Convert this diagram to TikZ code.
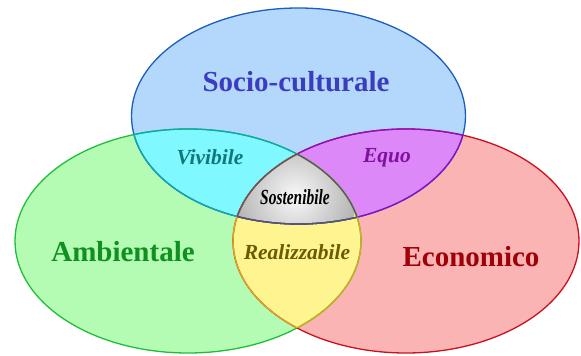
\documentclass[tikz,border=0pt]{standalone}
\usepackage{fontspec}
\setmainfont{Liberation Serif}
\usepackage{xcolor}
\usepackage{tikz}

\definecolor{socfill}{HTML}{B4D8FB}
\definecolor{socline}{HTML}{1A5FBF}
\definecolor{ambfill}{HTML}{B4FBB4}
\definecolor{ambline}{HTML}{1FBF3A}
\definecolor{ecofill}{HTML}{FBB4B4}
\definecolor{ecoline}{HTML}{CC1020}
\definecolor{vivfill}{HTML}{80F8FF}
\definecolor{vivline}{HTML}{10A8B0}
\definecolor{equfill}{HTML}{DD88F8}
\definecolor{equline}{HTML}{8A10C8}
\definecolor{realfill}{HTML}{FFF590}
\definecolor{realline}{HTML}{D8A820}
\definecolor{soctext}{HTML}{3C3CC0}
\definecolor{ambtext}{HTML}{109020}
\definecolor{ecotext}{HTML}{A00008}
\definecolor{vivtext}{HTML}{107878}
\definecolor{equtext}{HTML}{8010A0}
\definecolor{realtext}{HTML}{6A5A00}

\tikzset{
  bigname/.style={anchor=base, font=\fontsize{29}{32}\selectfont\bfseries},
  smallname/.style={anchor=base, font=\fontsize{21.5}{24}\selectfont\bfseries\itshape},
}

\newcommand{\socell}{(298.5,240) ellipse [x radius=167, y radius=108]}
\newcommand{\ambell}{(188,115) ellipse [x radius=173, y radius=112]}
\newcommand{\ecoell}{(406,115) ellipse [x radius=173, y radius=112]}

\begin{document}
\begin{tikzpicture}[x=1pt, y=1pt, line width=1.3pt]
        \useasboundingbox (0,0) rectangle (581,356);
        % the three sets
        \fill [socfill] \socell;
        \fill [ambfill] \ambell;
        \fill [ecofill] \ecoell;
        % pairwise overlaps
        \begin{scope} \clip \socell; \fill [vivfill] \ambell; \end{scope}
        \begin{scope} \clip \socell; \fill [equfill] \ecoell; \end{scope}
        \begin{scope} \clip \ambell; \fill [realfill] \ecoell; \end{scope}
        % centre
        \begin{scope}
            \clip \socell; \clip \ambell; \clip \ecoell;
            \shade [inner color=gray!5, outer color=gray!60] (295,160) circle [radius=62];
        \end{scope}
        % outlines
        \draw [socline] \socell;
        \draw [ambline] \ambell;
        \draw [ecoline] \ecoell;
        \begin{scope} \clip \socell; \draw [vivline] \ambell; \end{scope}
        \begin{scope} \clip \ambell; \draw [vivline] \socell; \end{scope}
        \begin{scope} \clip \socell; \draw [equline] \ecoell; \end{scope}
        \begin{scope} \clip \ecoell; \draw [equline] \socell; \end{scope}
        \begin{scope} \clip \ambell; \draw [realline] \ecoell; \end{scope}
        \begin{scope} \clip \ecoell; \draw [realline] \ambell; \end{scope}
        \begin{scope} \clip \socell; \clip \ambell; \draw [gray!70!black] \ecoell; \end{scope}
        \begin{scope} \clip \socell; \clip \ecoell; \draw [gray!70!black] \ambell; \end{scope}
        \begin{scope} \clip \ambell; \clip \ecoell; \draw [gray!70!black] \socell; \end{scope}
        % labels
        \node (socio) at (296, 264) [bigname, text=soctext] {Socio-culturale};
        \node (amb) at (123, 94) [bigname, text=ambtext] {Ambientale};
        \node (eco) at (471, 89) [bigname, text=ecotext] {Economico};
        \node (viv) at (210, 191) [smallname, text=vivtext] {Vivibile};
        \node (equo) at (387, 193) [smallname, text=equtext] {Equo};
        \node (sost) at (295, 151) [smallname, text=black] {\scalebox{0.72}[1]{Sostenibile}};
        \node (real) at (297, 96) [smallname, text=realtext] {Realizzabile};
    \end{tikzpicture}
\end{document}
